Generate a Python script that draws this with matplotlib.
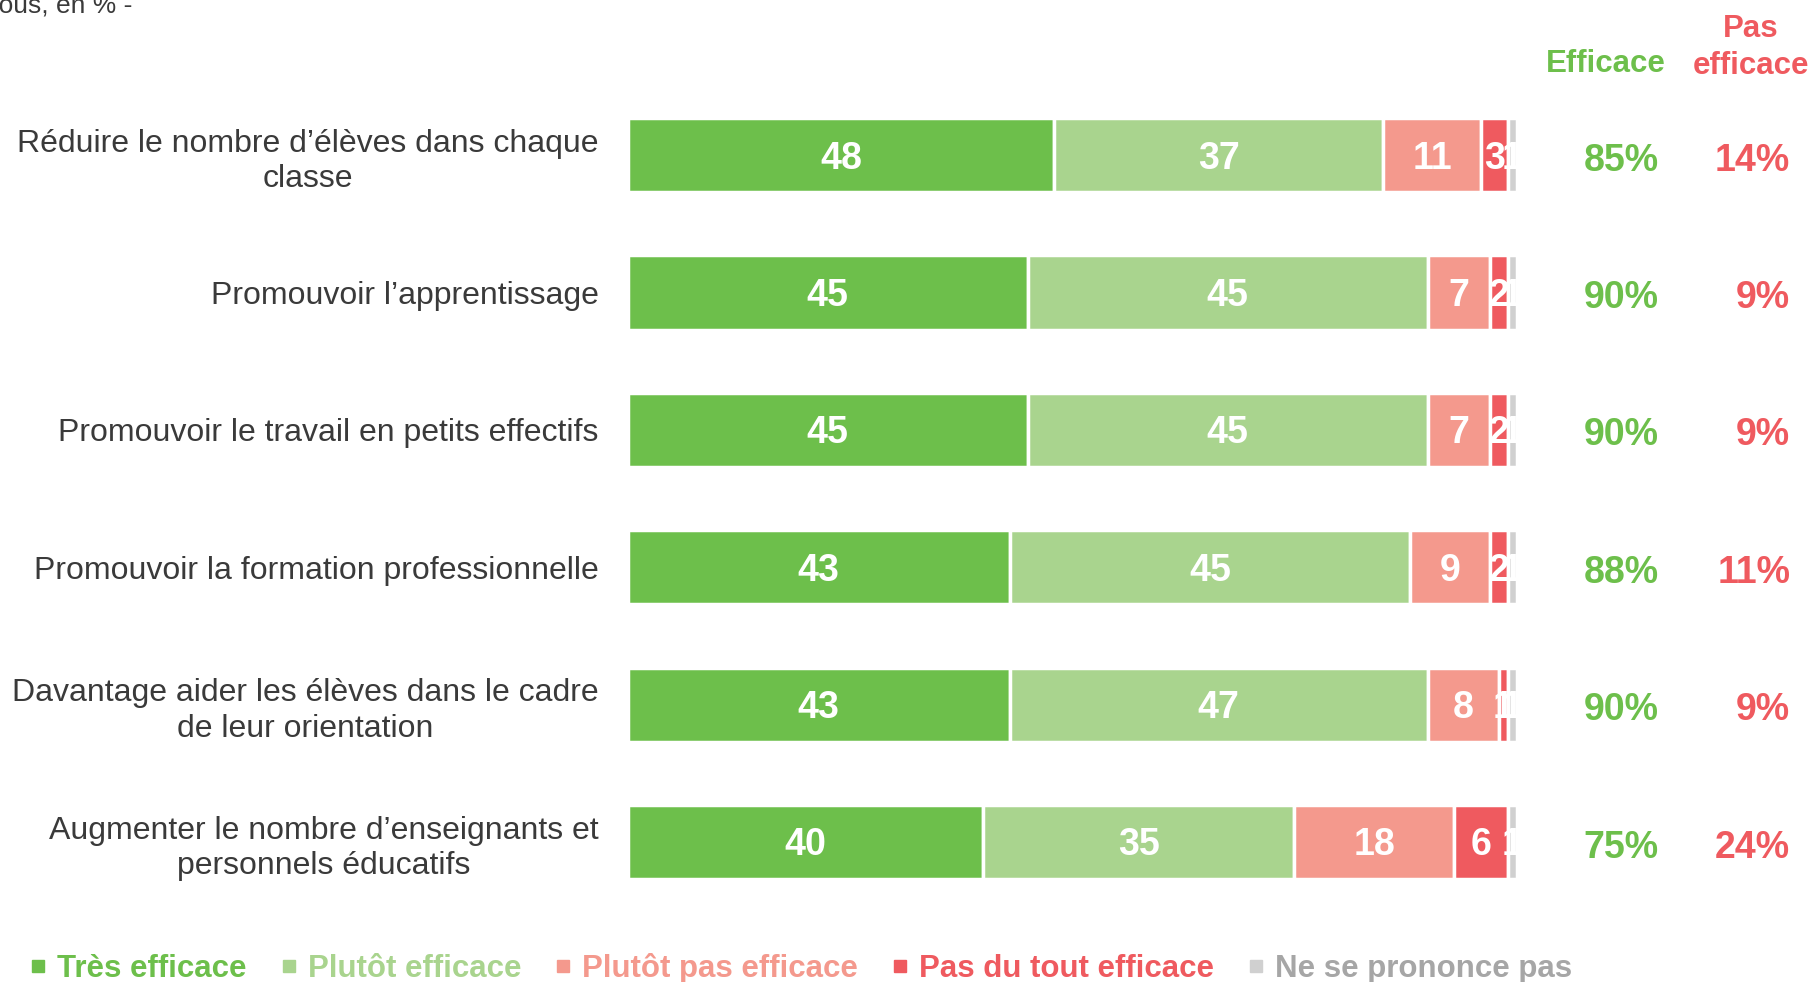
import matplotlib
matplotlib.use("Agg")
import matplotlib.pyplot as plt
from matplotlib.lines import Line2D
import numpy as np

plt.rcParams['font.family'] = ['Liberation Sans', 'DejaVu Sans']

# data
categories = [
    "Réduire le nombre d’élèves dans chaque\nclasse",
    "Promouvoir l’apprentissage",
    "Promouvoir le travail en petits effectifs",
    "Promouvoir la formation professionnelle",
    "Davantage aider les élèves dans le cadre\nde leur orientation",
    "Augmenter le nombre d’enseignants et\npersonnels éducatifs",
]
series_names = ["Très efficace", "Plutôt efficace", "Plutôt pas efficace",
                "Pas du tout efficace", "Ne se prononce pas"]
tres_efficace = [48, 45, 45, 43, 43, 40]
plutot_efficace = [37, 45, 45, 45, 47, 35]
plutot_pas = [11, 7, 7, 9, 8, 18]
pas_du_tout = [3, 2, 2, 2, 1, 6]
nsp = [1, 1, 1, 1, 1, 1]
efficace_tot = [85, 90, 90, 88, 90, 75]
pas_efficace_tot = [14, 9, 9, 11, 9, 24]

colors = ["#6dbf4b", "#a9d48e", "#f4998d", "#ef5a5f", "#d0d0d0"]
text_colors = ["#6dbf4b", "#a9d48e", "#f4998d", "#ef5a5f", "#a6a6a6"]
green = "#6dbf4b"
red = "#ef5a5f"

fig = plt.figure(figsize=(18.14, 9.82), dpi=100)
ax = fig.add_axes([0.346, 0.0726, 0.49, 0.8394])

y = np.arange(len(categories))
left = np.zeros(len(categories))
for vals, col in zip([tres_efficace, plutot_efficace, plutot_pas, pas_du_tout, nsp], colors):
    vals = np.array(vals, dtype=float)
    ax.barh(y, vals, left=left, height=0.54, color=col, edgecolor="white", linewidth=2.5)
    for yi, l, v in zip(y, left, vals):
        ax.text(l + v / 2, yi + 0.025, f"{int(v)}", ha="center", va="center", color="white",
                fontsize=27, fontweight="bold", clip_on=True)
    left += vals

ax.set_xlim(0, 100)
ax.set_ylim(len(categories) - 0.5, -0.5)
ax.set_yticks(y)
ax.set_yticklabels(categories, fontsize=23, color="#3a3a3a", linespacing=1.24)
for lbl in ax.get_yticklabels():
    lbl.set_multialignment("center")
ax.tick_params(axis="y", length=0, pad=21)
ax.set_xticks([])
for s in ax.spines.values():
    s.set_visible(False)

# totals columns
for yi, e, p in zip(y, efficace_tot, pas_efficace_tot):
    ax.text(111.8, yi + 0.04, f"{e}%", ha="center", va="center", color=green,
            fontsize=27, fontweight="bold", clip_on=False)
    ax.text(130.8, yi + 0.04, f"{p}%", ha="right", va="center", color=red,
            fontsize=27, fontweight="bold", clip_on=False)

ax.text(110.0, -0.66, "Efficace", ha="center", va="center", color=green,
        fontsize=22.5, fontweight="bold", clip_on=False)
ax.text(126.4, -0.785, "Pas\nefficace", ha="center", va="center", color=red,
        fontsize=22.5, fontweight="bold", clip_on=False, linespacing=1.3)

# clipped subtitle at top-left
fig.text(132 / 1814, 1 - 12 / 982, "- Base : tous, en % -", ha="right", va="baseline",
         fontsize=19, color="#3a3a3a")

# legend
handles = [Line2D([0], [0], marker="s", linestyle="none", markersize=8,
                  markerfacecolor=c, markeredgecolor=c) for c in colors]
leg = fig.legend(handles, series_names, loc="center left", bbox_to_anchor=(0.01, 0.014),
                 ncol=5, frameon=False, handlelength=0.5, handletextpad=0.35,
                 columnspacing=1.1, borderaxespad=0, prop={"size": 22.5, "weight": "bold"})
for t, c in zip(leg.get_texts(), text_colors):
    t.set_color(c)

fig.savefig("out.png", dpi=100)
